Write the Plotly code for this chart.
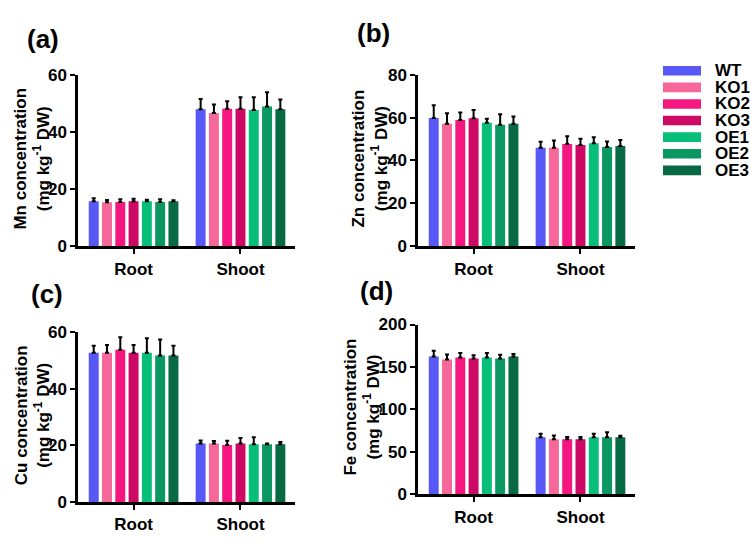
import plotly.graph_objects as go

W, H = 750, 542

groups = ["Root", "Shoot"]
lines = ["WT", "KO1", "KO2", "KO3", "OE1", "OE2", "OE3"]
colors = ["#5858F6", "#F7689A", "#F5177F", "#CC0964", "#07BF78", "#0B9761", "#076A45"]

# (a) Mn
mn_root = [15.8, 15.4, 15.5, 15.8, 15.8, 15.5, 15.8]
mn_root_err = [1.0, 0.8, 1.0, 0.8, 0.5, 1.0, 0.3]
mn_shoot = [47.9, 46.6, 48.1, 48.1, 47.6, 48.9, 47.9]
mn_shoot_err = [3.6, 3.0, 2.6, 4.0, 4.5, 4.9, 3.4]

# (b) Zn
zn_root = [59.8, 57.1, 58.9, 59.7, 57.6, 56.7, 57.1]
zn_root_err = [5.9, 4.9, 3.5, 3.8, 1.9, 4.8, 3.4]
zn_shoot = [45.9, 45.9, 47.7, 47.2, 48.0, 46.3, 46.8]
zn_shoot_err = [2.8, 3.4, 3.6, 2.9, 2.8, 2.6, 2.8]

# (c) Cu
cu_root = [52.8, 52.8, 53.8, 52.8, 52.8, 51.8, 51.8]
cu_root_err = [2.4, 2.7, 4.4, 2.7, 5.1, 5.6, 3.4]
cu_shoot = [20.7, 20.7, 20.2, 20.7, 20.4, 20.4, 20.4]
cu_shoot_err = [1.1, 0.9, 1.5, 1.9, 2.5, 0.3, 0.8]

# (d) Fe
fe_root = [162.3, 158.9, 161.1, 160.0, 161.1, 160.0, 162.3]
fe_root_err = [6.8, 5.7, 5.3, 3.8, 5.3, 4.5, 3.0]
fe_shoot = [67.2, 64.9, 64.9, 64.9, 67.2, 67.2, 67.2]
fe_shoot_err = [4.1, 4.5, 2.6, 2.6, 4.1, 6.0, 1.9]

panel_labels = ["(a)", "(b)", "(c)", "(d)"]
y_titles = [
    "Mn concentration<br>(mg kg<sup>-1</sup> DW)",
    "Zn concentration<br>(mg kg<sup>-1</sup> DW)",
    "Cu concentration<br>(mg kg<sup>-1</sup> DW)",
    "Fe concentration<br>(mg kg<sup>-1</sup> DW)",
]
y_max = [60, 80, 60, 200]
y_dtick = [20, 20, 20, 50]

panels = [
    (mn_root, mn_shoot, mn_root_err, mn_shoot_err),
    (zn_root, zn_shoot, zn_root_err, zn_shoot_err),
    (cu_root, cu_shoot, cu_root_err, cu_shoot_err),
    (fe_root, fe_shoot, fe_root_err, fe_shoot_err),
]

# layout geometry in pixels: (x0, x1, ytop, ybottom)
boxes = [(78, 295, 68, 246), (418, 635, 68, 246), (78, 295, 335, 511), (418, 635, 327, 503)]
label_pos = [(43, 31), (373, 25), (47, 295), (376, 292)]
ytitle_x = [32, 370, 32, 362]

FONT = "Liberation Sans, Arial, sans-serif"

def px(x):
    return x / W

def py(y):
    return 1 - y / H

fig = go.Figure()
layout = dict(
    width=W, height=H, margin=dict(l=0, r=0, t=0, b=0),
    paper_bgcolor="white", plot_bgcolor="white",
    barmode="group", bargap=0.13, bargroupgap=0.25,
    showlegend=False,
    font=dict(family=FONT, size=17, color="black", weight="bold"),
)
annotations = []
shapes = []

for p, (root, shoot, rerr, serr) in enumerate(panels):
    sfx = "" if p == 0 else str(p + 1)
    xa, ya = "x" + sfx, "y" + sfx
    for i, name in enumerate(lines):
        fig.add_trace(go.Bar(
            x=groups, y=[root[i], shoot[i]], name=name,
            marker=dict(color=colors[i], line=dict(width=0)),
            error_y=dict(type="data", symmetric=False,
                         array=[rerr[i], serr[i]], arrayminus=[0, 0],
                         color="black", thickness=2, width=2),
            xaxis=xa, yaxis=ya, showlegend=False,
        ))
    x0, x1, yt, yb = boxes[p]
    layout["xaxis" + sfx] = dict(
        domain=[px(x0), px(x1)], anchor=ya, type="category",
        range=[-0.52, 1.51], showline=True, linewidth=3, linecolor="black",
        ticks="outside", ticklen=5, tickwidth=2, tickcolor="black",
        showgrid=False, zeroline=False,
        tickfont=dict(family=FONT, size=17, color="black", weight="bold"),
    )
    layout["yaxis" + sfx] = dict(
        domain=[py(yb), py(yt)], anchor=xa,
        range=[0, y_max[p]], dtick=y_dtick[p], showline=True, linewidth=2.5,
        linecolor="black", ticks="outside", ticklen=5, tickwidth=2,
        tickcolor="black", showgrid=False, zeroline=False,
        tickfont=dict(family=FONT, size=17, color="black", weight="bold"),
    )
    annotations.append(dict(
        text=panel_labels[p], xref="paper", yref="paper",
        x=px(label_pos[p][0]), y=py(label_pos[p][1]),
        xanchor="center", yanchor="middle", showarrow=False,
        font=dict(family=FONT, size=26, color="black", weight="bold"),
    ))
    annotations.append(dict(
        text=y_titles[p], xref="paper", yref="paper",
        x=px(ytitle_x[p]), y=py((yt + yb) / 2 - 2),
        xanchor="center", yanchor="middle", showarrow=False, textangle=-90,
        font=dict(family=FONT, size=17, color="black", weight="bold"),
    ))

# legend
leg_y0, leg_dy = 64, 17.2
for i, name in enumerate(lines):
    cy = leg_y0 + i * leg_dy
    shapes.append(dict(
        type="rect", xref="paper", yref="paper",
        x0=px(663), x1=px(701), y0=py(cy + 5), y1=py(cy - 5),
        fillcolor=colors[i], line=dict(width=0),
    ))
    annotations.append(dict(
        text=name, xref="paper", yref="paper", x=px(713), y=py(cy),
        xanchor="left", yanchor="middle", showarrow=False,
        font=dict(family=FONT, size=17, color="black", weight="bold"),
    ))

layout["annotations"] = annotations
layout["shapes"] = shapes
fig.update_layout(**layout)
fig.write_html("out.html")
